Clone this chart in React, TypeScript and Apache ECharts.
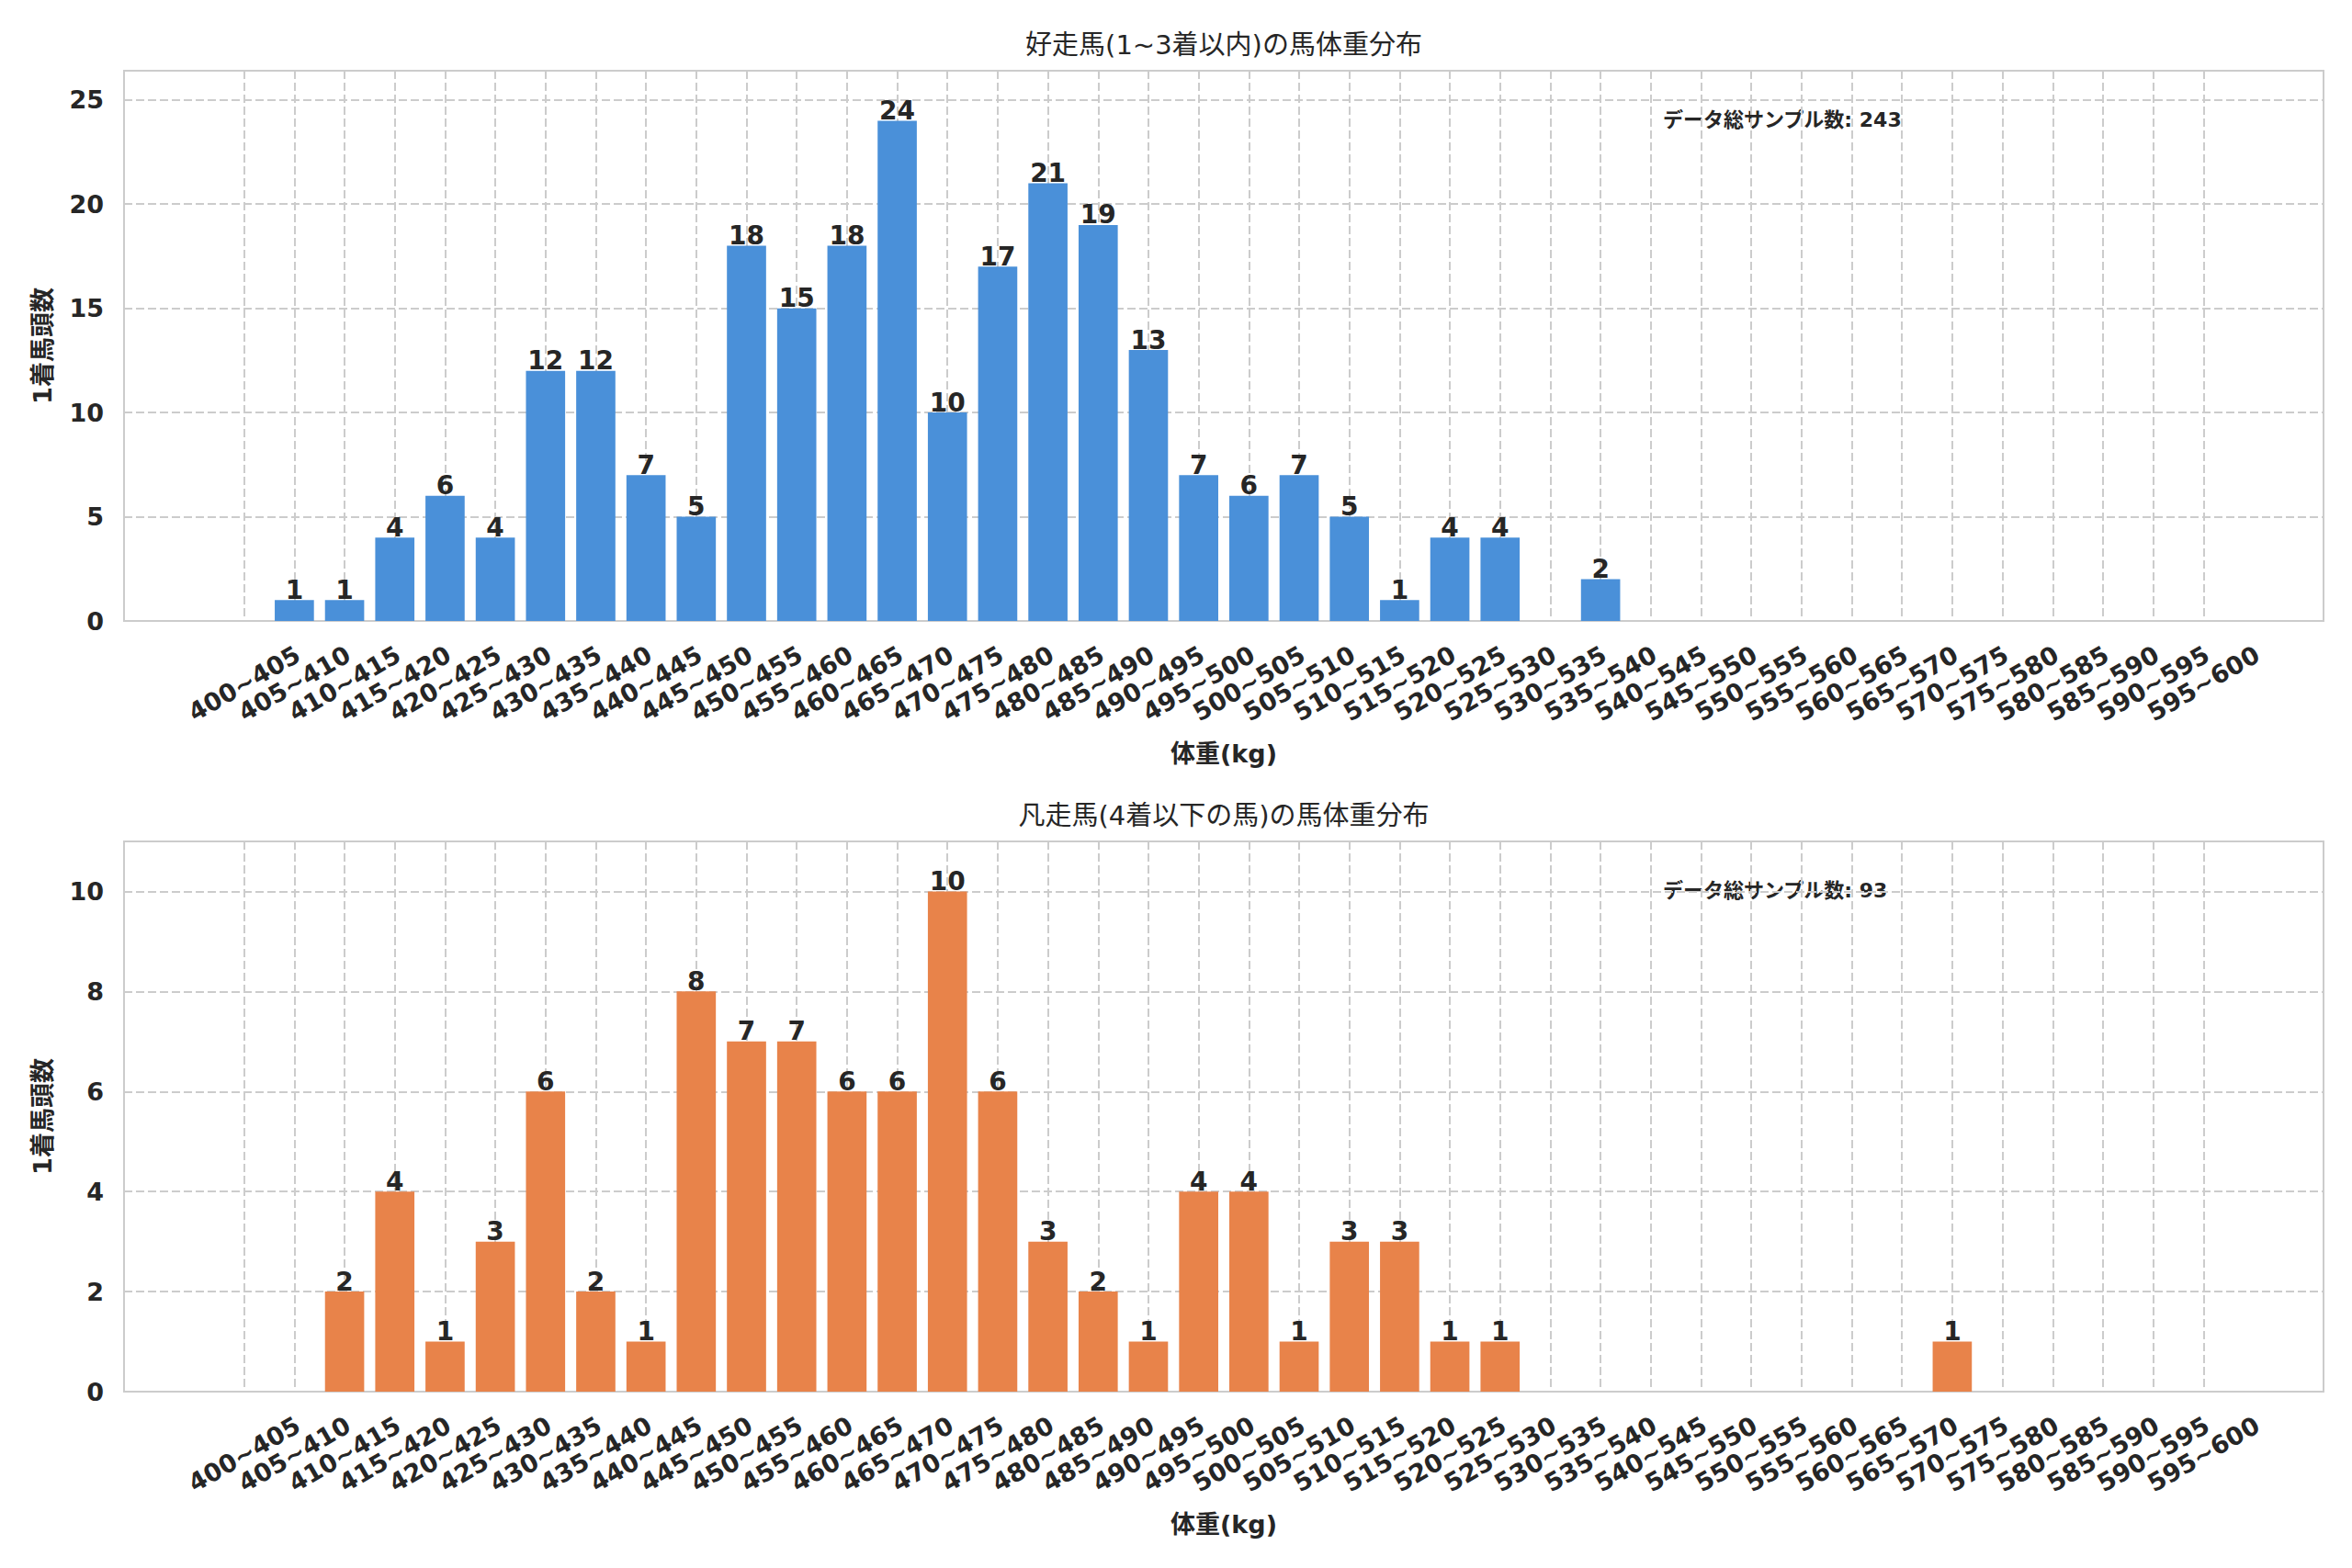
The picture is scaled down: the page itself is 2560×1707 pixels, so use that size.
import React, { useEffect, useRef } from "react";
import * as echarts from "echarts";

const categories = [
  "400~405", "405~410", "410~415", "415~420", "420~425", "425~430", "430~435", "435~440",
  "440~445", "445~450", "450~455", "455~460", "460~465", "465~470", "470~475", "475~480",
  "480~485", "485~490", "490~495", "495~500", "500~505", "505~510", "510~515", "515~520",
  "520~525", "525~530", "530~535", "535~540", "540~545", "545~550", "550~555", "555~560",
  "560~565", "565~570", "570~575", "575~580", "580~585", "585~590", "590~595", "595~600",
];

const topCounts = [
  0, 1, 1, 4, 6, 4, 12, 12, 7, 5, 18, 15, 18, 24, 10, 17, 21, 19, 13, 7,
  6, 7, 5, 1, 4, 4, 0, 2, 0, 0, 0, 0, 0, 0, 0, 0, 0, 0, 0, 0,
];

const bottomCounts = [
  0, 0, 2, 4, 1, 3, 6, 2, 1, 8, 7, 7, 6, 6, 10, 6, 3, 2, 1, 4,
  4, 1, 3, 3, 1, 1, 0, 0, 0, 0, 0, 0, 0, 0, 1, 0, 0, 0, 0, 0,
];

const titles = ["好走馬(1~3着以内)の馬体重分布", "凡走馬(4着以下の馬)の馬体重分布"];
const yAxisName = "1着馬頭数";
const xAxisName = "体重(kg)";
const sampleLabel = "データ総サンプル数";
const yMaxes = [26.4, 11];
const yIntervals = [5, 2];
const barColors = ["#4A90D9", "#E8834A"];

const FONT = "'DejaVu Sans', 'Noto Sans CJK JP', sans-serif";
const TEXT = "#262626";
const GRIDC = "#cccccc";

export default function App() {
  const ref = useRef<HTMLDivElement>(null);

  useEffect(() => {
    document.body.style.margin = "0";
    const chart = echarts.init(ref.current!, null, { renderer: "svg" });

    const frameL = 135;
    const frameW = 2394;
    const tops = [77, 916];
    const H = 599;
    const span = 43.78;
    const unit = frameW / span;
    const barL = frameL + 2.39 * unit;
    const barW = 39 * unit;

    const grids: any[] = [];
    const xAxes: any[] = [];
    const yAxes: any[] = [];
    const series: any[] = [];
    const graphics: any[] = [];
    const datasets = [topCounts, bottomCounts];

    datasets.forEach((counts, i) => {
      const top = tops[i];
      const g0 = i * 2;
      const g1 = i * 2 + 1;
      grids.push({
        left: frameL, top, width: frameW, height: H,
        show: true, borderColor: GRIDC, borderWidth: 2, backgroundColor: "transparent",
      });
      grids.push({ left: barL, top, width: barW, height: H });

      xAxes.push({ gridIndex: g0, type: "value", show: false, min: 0, max: 1 });
      xAxes.push({
        gridIndex: g1,
        type: "category",
        data: categories,
        boundaryGap: false,
        axisLine: { show: false },
        axisTick: { show: false },
        splitLine: { show: true, interval: 0, lineStyle: { color: GRIDC, width: 2, type: [9, 4] } },
        axisLabel: {
          interval: 0, rotate: 30, align: "center", verticalAlign: "middle", margin: 68,
          fontSize: 27, fontWeight: "bold", color: TEXT, fontFamily: FONT,
        },
        name: xAxisName,
        nameLocation: "middle",
        nameGap: 131,
        nameTextStyle: { fontSize: 27, fontWeight: "bold", color: TEXT, fontFamily: FONT },
      });

      yAxes.push({
        gridIndex: g0,
        type: "value",
        min: 0,
        max: yMaxes[i],
        interval: yIntervals[i],
        axisLine: { show: false },
        axisTick: { show: false },
        splitLine: { show: true, lineStyle: { color: GRIDC, width: 2, type: [9, 4] } },
        axisLabel: {
          showMaxLabel: false, margin: 22, fontSize: 27, fontWeight: "bold", color: TEXT, fontFamily: FONT,
        },
        name: yAxisName,
        nameLocation: "middle",
        nameGap: 75,
        nameTextStyle: { fontSize: 27, fontWeight: "bold", color: TEXT, fontFamily: FONT },
      });
      yAxes.push({ gridIndex: g1, type: "value", min: 0, max: yMaxes[i], show: false });

      series.push({
        type: "bar",
        xAxisIndex: g1,
        yAxisIndex: g1,
        data: counts,
        barWidth: 0.78 * unit,
        itemStyle: { color: barColors[i] },
        label: {
          show: true,
          position: "top",
          distance: -3,
          formatter: (p: any) => (p.value ? String(p.value) : ""),
          fontSize: 28,
          fontWeight: "bold",
          color: TEXT,
          fontFamily: FONT,
        },
      });

      const total = counts.reduce((a, b) => a + b, 0);
      graphics.push({
        type: "text",
        x: frameL + frameW / 2,
        y: top - 28,
        style: {
          text: titles[i], fontSize: 29, fontFamily: FONT, fill: TEXT,
          align: "center", verticalAlign: "middle",
        },
      });
      graphics.push({
        type: "text",
        x: 1810,
        y: top + 53,
        style: {
          text: `${sampleLabel}: ${total}`, fontSize: 22, fontWeight: "bold", fontFamily: FONT, fill: TEXT,
          align: "left", verticalAlign: "middle",
        },
      });
    });

    chart.setOption({
      animation: false,
      backgroundColor: "#ffffff",
      grid: grids,
      xAxis: xAxes,
      yAxis: yAxes,
      series,
      graphic: graphics,
    });

    return () => chart.dispose();
  }, []);

  return <div ref={ref} style={{ width: 2560, height: 1707 }} />;
}
